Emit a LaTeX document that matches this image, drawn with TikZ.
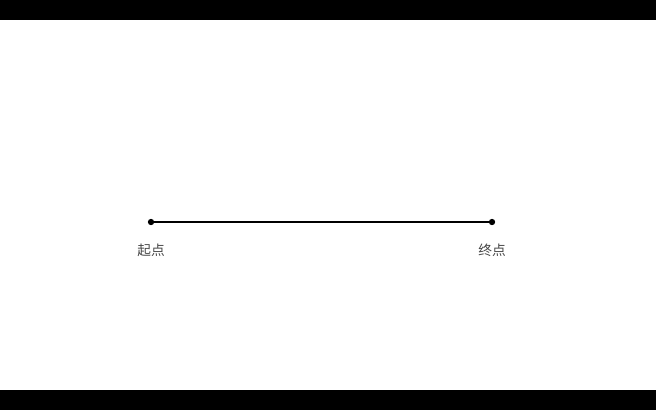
\documentclass[tikz,border=0pt]{standalone}
\usepackage{fontspec}
\newfontfamily\cjk{Noto Sans CJK SC}
\begin{document}
\begin{tikzpicture}[x=0.02cm,y=-0.02cm,
  point/.style={circle,fill=black,inner sep=0pt,minimum size=3.6pt},
  label/.style={font=\cjk\fontsize{7.8}{9}\selectfont,text=black!72}]

% Cadre
\useasboundingbox (0,0) rectangle (656,410);
\fill[black]
(0,0)
rectangle
(656,20);

\fill[black]
(0,389.5)
rectangle
(656,410);

% Points
\node[point] (debut)
at (151,222) {};

\node[point] (fin)
at (492,222) {};

% Segment
\draw[line width=1.1pt]
(debut.center)
--
(fin.center);

% Noms
\node[label] (nomdebut)
at (151,250)
{起点};

\node[label] (nomfin)
at (492,250)
{终点};

\end{tikzpicture}
\end{document}
